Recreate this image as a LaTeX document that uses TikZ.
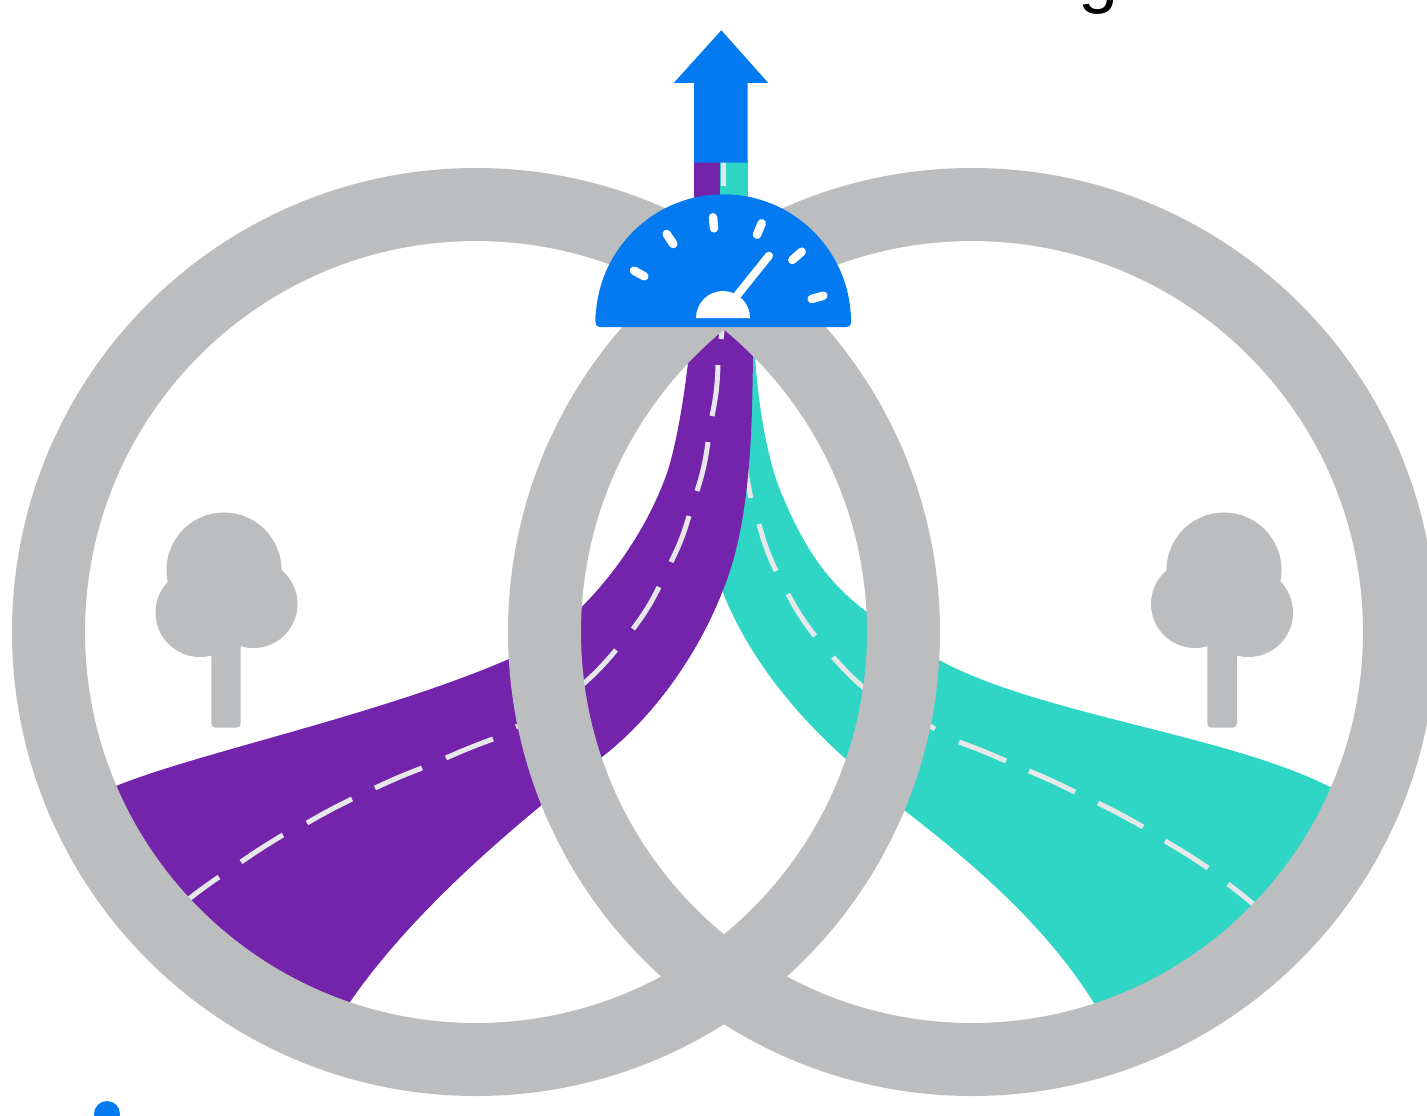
\documentclass[tikz,border=0pt]{standalone}
\usepackage{fontspec}
\setmainfont{Liberation Sans}
\definecolor{ringgray}{HTML}{BCBDBF}
\definecolor{roadpurple}{HTML}{7324AB}
\definecolor{roadteal}{HTML}{2FD6C5}
\definecolor{signblue}{HTML}{037AF0}
\definecolor{lanegray}{HTML}{E6E7E8}
\tikzset{
  ring/.style={draw=ringgray,line width=73pt},
  lane/.style={draw=lanegray,line width=5pt},
  tick/.style={draw=white,line width=8.5pt,line cap=round},
  curveA/.style={bend right=5},
  curveB/.style={bend left=2},
}
\begin{document}
\begin{tikzpicture}[x=1pt,y=-1pt]
\useasboundingbox (0,0) rectangle (1427,1116);
\fill[white] (0,0) rectangle (1427,1116);
% cropped text fragment
\node[anchor=base,inner sep=0pt,font=\fontsize{72}{72}\selectfont,text=black] (frag) at (1099,0) {g};
% cropped blue dot
\fill[signblue] (107,1114) circle[radius=13];
% trees
\foreach \cx/\cy/\r in {224/570/57.5,200/612.5/44.5,253.5/604/44,1224/570/57.5,1195/604/44,1248.5/612.5/44.5}
  \fill[ringgray] (\cx,\cy) circle[radius=\r];
\fill[ringgray,rounded corners=4pt] (211.3,630) rectangle (240.7,727.7);
\fill[ringgray,rounded corners=4pt] (1207.3,630) rectangle (1237,727.7);
% teal road
\fill[roadteal] (755,325) -- (755,355)
  .. controls (758,410) and (770,470) .. (783,497)
  .. controls (805,550) and (830,585) .. (867,612)
  .. controls (890,630) and (915,648) .. (939,660)
  .. controls (1040,715) and (1230,735) .. (1332,788)
  -- (1350,796) -- (1340,850) -- (1272,932) -- (1190,1000) -- (1105,1020) -- (1094,1003)
  .. controls (1045,925) and (975,865) .. (904,810)
  .. controls (880,790) and (865,776) .. (847,760)
  .. controls (790,710) and (745,650) .. (722,590) -- cycle;
% lane marks, teal road
\foreach \ax/\ay/\bx/\by in {745/455/751/498,759/524/776/571,788/594/815/636,833/657/875/697}
  \draw[lane] (\ax,\ay) to[curveA] (\bx,\by);
\foreach \ax/\ay/\bx/\by in {910/716/935/729,959/742/1006/761,1029/771/1075/792,1098/803/1143/827,1165/841/1208/868,1228/884/1260/910}
  \draw[lane] (\ax,\ay) to[curveB] (\bx,\by);
% purple road
\fill[roadpurple] (100,793) -- (116,786)
  .. controls (200,752) and (380,715) .. (509,659)
  .. controls (575,630) and (640,550) .. (667,473)
  .. controls (678,440) and (688,375) .. (691,330)
  -- (753,330) -- (753,355)
  .. controls (752,420) and (752,520) .. (723,590)
  .. controls (702,645) and (660,712) .. (602,757)
  .. controls (540,805) and (420,900) .. (350,1002)
  -- (340,1020) -- (208,960) -- cycle;
% lane marks, purple road
\foreach \ax/\ay/\bx/\by in {185/902/219/877,241/862/283/835,307/823/352/799,375/788/422/768,446/758/493/739,516/727/535/719}
  \draw[lane] (\ax,\ay) to[curveB] (\bx,\by);
\foreach \ax/\ay/\bx/\by in {575/691/616/650,633/629/659/587,671/562/689/516,697/491/708/442,712/416/718/365,721/339/722/327}
  \draw[lane] (\ax,\ay) to[curveA] (\bx,\by);
% rings
\draw[ring] (476,632) circle[radius=427.5];
\draw[ring] (972,632) circle[radius=427.5];
% arrow
\fill[roadpurple] (694,160) rectangle (720,205);
\fill[roadteal] (720,160) rectangle (747.7,205);
\fill[lanegray] (720.7,160) rectangle (726,186);
\fill[signblue] (721.3,30.3) -- (768.3,83) -- (747.7,83) -- (747.7,162.7) -- (694,162.7) -- (694,83) -- (673.7,83) -- cycle;
% gauge
\fill[signblue] (595.6,322) arc[start angle=180,end angle=360,radius=127.7] -- cycle;
\fill[signblue,rounded corners=4pt] (595.6,310) rectangle (851,327);
\draw[tick] (634,270.7) -- (644.3,276.3);
\draw[tick] (666.7,234) -- (673.3,244);
\draw[tick] (713,217.3) -- (714,228.3);
\draw[tick] (761.7,223.3) -- (757,234.7);
\draw[tick] (801.7,251.7) -- (792.3,260);
\draw[tick] (823.3,295.7) -- (811.7,299);
\draw[draw=white,line width=8pt,line cap=round] (769,255.7) -- (735,298);
\fill[white] (696,318) arc[start angle=180,end angle=360,radius=27] -- cycle;
\end{tikzpicture}
\end{document}
